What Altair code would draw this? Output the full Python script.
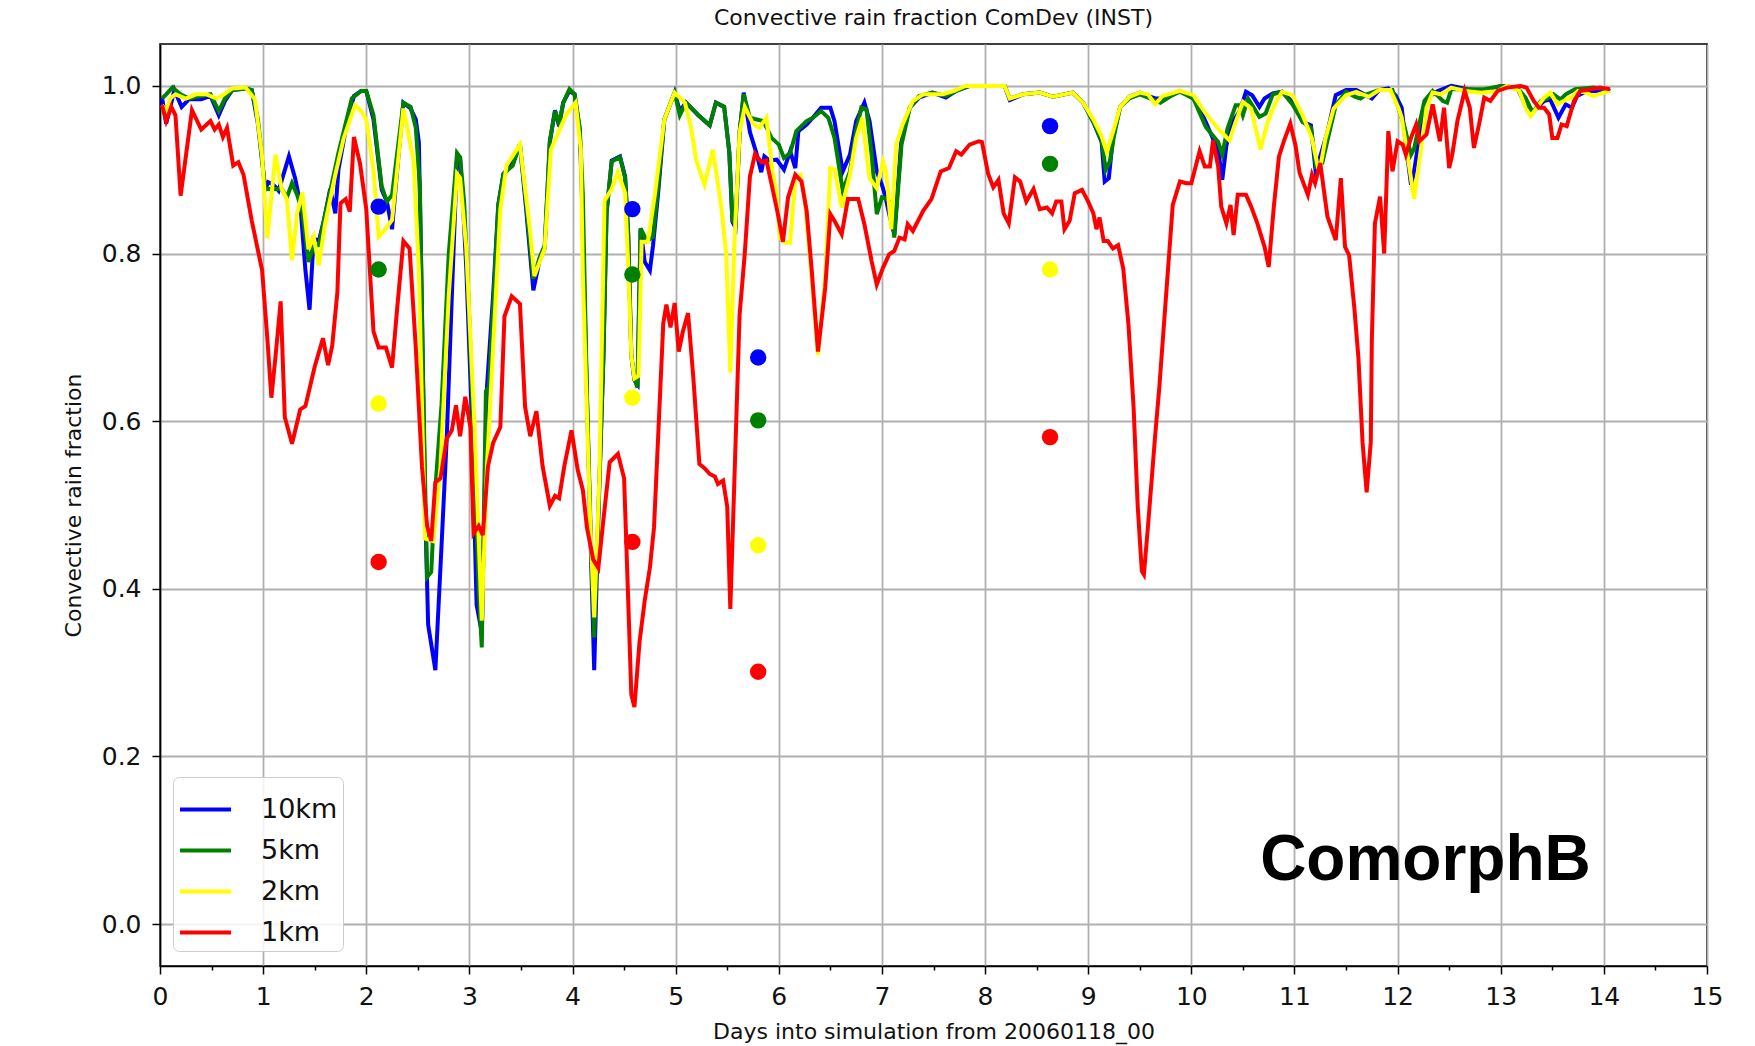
import altair as alt
import pandas as pd

series_names = ["10km", "5km", "2km", "1km"]
series_colors = ["#0000ff", "#008000", "#ffff00", "#ff0000"]

blue_day = [0.02,0.06,0.14,0.21,0.28,0.40,0.49,0.57,0.63,0.70,0.83,0.89,0.95,1.02,1.05,1.10,1.15,1.25,1.31,1.36,1.41,1.45,1.49,1.54,1.59,1.65,1.70,1.73,1.81,1.88,1.95,2.00,2.07,2.15,2.20,2.25,2.30,2.36,2.43,2.48,2.51,2.54,2.57,2.60,2.67,2.73,2.78,2.83,2.88,2.91,2.94,2.97,3.02,3.07,3.12,3.17,3.23,3.28,3.33,3.42,3.49,3.55,3.62,3.68,3.73,3.78,3.83,3.87,3.91,3.97,4.02,4.07,4.09,4.14,4.18,4.21,4.25,4.30,4.33,4.38,4.46,4.51,4.54,4.57,4.60,4.63,4.66,4.70,4.75,4.78,4.83,4.89,4.99,5.04,5.10,5.22,5.33,5.39,5.47,5.52,5.55,5.58,5.62,5.66,5.72,5.78,5.83,5.86,5.91,5.98,6.05,6.11,6.16,6.19,6.27,6.33,6.41,6.50,6.54,6.62,6.69,6.75,6.83,6.88,6.95,7.00,7.03,7.07,7.12,7.19,7.27,7.36,7.49,7.62,7.72,7.85,8.19,8.24,8.37,8.53,8.66,8.85,8.95,9.05,9.13,9.16,9.20,9.24,9.31,9.40,9.50,9.58,9.65,9.75,9.89,10.02,10.08,10.14,10.21,10.26,10.30,10.34,10.40,10.47,10.53,10.59,10.66,10.71,10.79,10.88,10.98,11.08,11.16,11.21,11.25,11.32,11.40,11.50,11.60,11.69,11.75,11.82,11.91,11.98,12.04,12.08,12.13,12.16,12.21,12.26,12.32,12.39,12.52,12.68,12.84,13.00,13.16,13.22,13.29,13.35,13.42,13.48,13.56,13.63,13.69,13.74,13.84,13.93,14.03,14.06]
blue_val = [0.986,0.955,0.995,0.975,0.984,0.984,0.988,0.965,0.982,0.995,0.997,0.995,0.954,0.877,0.885,0.882,0.875,0.916,0.89,0.86,0.78,0.733,0.818,0.815,0.84,0.877,0.848,0.90,0.954,0.988,0.994,0.994,0.96,0.876,0.862,0.829,0.90,0.98,0.973,0.96,0.933,0.735,0.50,0.357,0.303,0.452,0.579,0.75,0.914,0.914,0.853,0.782,0.617,0.381,0.348,0.64,0.75,0.858,0.895,0.909,0.93,0.853,0.756,0.792,0.806,0.933,0.971,0.952,0.98,0.994,0.99,0.947,0.872,0.629,0.435,0.303,0.483,0.678,0.848,0.911,0.916,0.892,0.824,0.678,0.649,0.644,0.829,0.79,0.78,0.809,0.872,0.96,0.992,0.97,0.98,0.965,0.953,0.98,0.975,0.921,0.838,0.831,0.945,0.992,0.945,0.921,0.897,0.916,0.911,0.912,0.90,0.922,0.902,0.946,0.954,0.962,0.974,0.974,0.958,0.898,0.918,0.958,0.98,0.958,0.898,0.882,0.87,0.847,0.823,0.938,0.974,0.986,0.992,0.986,0.994,1.0,1.0,0.983,0.99,0.992,0.987,0.992,0.98,0.957,0.933,0.886,0.89,0.938,0.975,0.987,0.992,0.988,0.985,0.985,0.994,0.985,0.973,0.957,0.937,0.924,0.888,0.929,0.957,0.97,0.993,0.989,0.975,0.985,0.991,0.993,0.981,0.957,0.953,0.892,0.916,0.945,0.989,0.995,0.995,0.989,0.985,0.995,0.997,0.989,0.974,0.93,0.882,0.898,0.938,0.97,0.988,0.994,1.0,0.996,0.994,1.0,0.998,0.982,0.966,0.974,0.982,0.984,0.962,0.978,0.974,0.988,0.994,0.994,0.994,0.994]

green_day = [0.02,0.06,0.12,0.20,0.28,0.40,0.49,0.57,0.63,0.70,0.83,0.89,0.95,1.02,1.10,1.18,1.23,1.28,1.33,1.38,1.44,1.49,1.54,1.59,1.66,1.73,1.86,1.95,2.00,2.07,2.15,2.20,2.25,2.30,2.36,2.43,2.48,2.52,2.55,2.59,2.63,2.67,2.73,2.80,2.88,2.91,2.95,3.00,3.05,3.09,3.12,3.16,3.19,3.24,3.28,3.33,3.42,3.49,3.55,3.62,3.68,3.73,3.78,3.83,3.87,3.91,3.97,4.02,4.07,4.10,4.14,4.18,4.21,4.25,4.30,4.33,4.38,4.46,4.51,4.54,4.57,4.60,4.63,4.66,4.72,4.78,4.83,4.89,4.99,5.04,5.10,5.22,5.33,5.39,5.47,5.52,5.55,5.58,5.62,5.66,5.72,5.85,5.93,6.00,6.05,6.11,6.17,6.27,6.33,6.41,6.48,6.54,6.62,6.69,6.75,6.80,6.85,6.90,6.95,7.00,7.05,7.09,7.12,7.19,7.27,7.36,7.49,7.62,7.72,7.85,8.19,8.24,8.37,8.53,8.66,8.85,8.95,9.05,9.13,9.17,9.21,9.25,9.31,9.40,9.50,9.60,9.70,9.80,9.89,10.02,10.14,10.26,10.30,10.35,10.43,10.47,10.50,10.55,10.66,10.72,10.79,10.88,10.98,11.08,11.16,11.21,11.27,11.32,11.40,11.50,11.59,11.64,11.70,11.82,11.95,12.01,12.07,12.13,12.16,12.21,12.26,12.34,12.44,12.48,12.52,12.68,12.84,13.00,13.16,13.24,13.31,13.39,13.45,13.51,13.58,13.63,13.72,13.90,14.03,14.06]
green_val = [0.985,0.99,0.998,0.99,0.985,0.988,0.99,0.97,0.985,0.995,0.997,0.995,0.96,0.877,0.877,0.877,0.867,0.884,0.87,0.85,0.79,0.81,0.81,0.84,0.88,0.92,0.985,0.994,0.994,0.965,0.88,0.862,0.87,0.92,0.98,0.975,0.95,0.88,0.65,0.414,0.42,0.52,0.62,0.80,0.92,0.915,0.86,0.72,0.55,0.40,0.33,0.636,0.64,0.76,0.858,0.895,0.905,0.93,0.86,0.77,0.795,0.81,0.935,0.97,0.955,0.98,0.996,0.99,0.95,0.87,0.63,0.45,0.342,0.49,0.68,0.85,0.91,0.915,0.89,0.82,0.68,0.65,0.64,0.83,0.815,0.82,0.88,0.96,0.992,0.965,0.98,0.965,0.953,0.98,0.975,0.921,0.84,0.835,0.945,0.99,0.962,0.958,0.938,0.93,0.914,0.92,0.946,0.958,0.962,0.97,0.962,0.938,0.875,0.898,0.946,0.974,0.972,0.918,0.847,0.867,0.865,0.859,0.819,0.93,0.974,0.988,0.992,0.988,0.994,1.0,1.0,0.985,0.99,0.992,0.987,0.992,0.98,0.957,0.935,0.90,0.91,0.94,0.975,0.985,0.99,0.985,0.98,0.988,0.993,0.985,0.951,0.933,0.918,0.949,0.977,0.977,0.965,0.985,0.963,0.967,0.99,0.993,0.978,0.957,0.95,0.904,0.908,0.935,0.977,0.993,0.987,0.985,0.99,0.995,0.995,0.973,0.95,0.918,0.925,0.954,0.982,0.994,0.982,0.98,0.996,0.996,0.996,1.0,0.998,0.986,0.968,0.982,0.985,0.99,0.984,0.99,0.996,0.998,0.996,0.994]

yellow_day = [0.02,0.06,0.10,0.15,0.25,0.35,0.45,0.55,0.62,0.70,0.83,0.92,0.99,1.04,1.12,1.18,1.23,1.28,1.33,1.38,1.44,1.49,1.54,1.60,1.70,1.78,1.89,1.95,2.00,2.07,2.12,2.19,2.25,2.36,2.46,2.51,2.57,2.65,2.72,2.80,2.88,2.91,2.97,3.05,3.12,3.17,3.23,3.30,3.36,3.49,3.59,3.63,3.73,3.79,3.84,3.94,4.03,4.08,4.10,4.17,4.21,4.26,4.31,4.38,4.44,4.51,4.54,4.57,4.60,4.64,4.67,4.73,4.80,4.89,4.99,5.09,5.15,5.20,5.28,5.36,5.44,5.49,5.53,5.57,5.62,5.67,5.75,5.81,5.88,5.94,5.98,6.01,6.06,6.11,6.16,6.21,6.25,6.32,6.38,6.45,6.50,6.54,6.61,6.69,6.75,6.81,6.88,6.95,7.01,7.04,7.09,7.14,7.20,7.30,7.40,7.59,7.70,7.81,8.19,8.24,8.37,8.53,8.66,8.85,8.95,9.05,9.13,9.18,9.24,9.31,9.40,9.50,9.58,9.65,9.72,9.89,10.02,10.14,10.26,10.37,10.43,10.50,10.58,10.67,10.74,10.82,10.88,10.98,11.08,11.17,11.24,11.30,11.38,11.50,11.60,11.72,11.82,11.93,12.01,12.04,12.10,12.16,12.21,12.28,12.34,12.42,12.52,12.65,12.81,12.97,13.06,13.18,13.24,13.29,13.35,13.42,13.48,13.55,13.61,13.68,13.75,13.82,13.90,14.00,14.06]
yellow_val = [0.977,0.97,0.985,0.99,0.985,0.99,0.99,0.985,0.99,0.997,0.998,0.984,0.916,0.818,0.918,0.877,0.865,0.792,0.848,0.873,0.805,0.82,0.786,0.835,0.894,0.937,0.977,0.97,0.96,0.90,0.82,0.83,0.84,0.973,0.91,0.78,0.46,0.457,0.546,0.75,0.895,0.89,0.806,0.593,0.362,0.546,0.688,0.853,0.905,0.93,0.825,0.773,0.806,0.924,0.938,0.966,0.98,0.924,0.775,0.483,0.366,0.532,0.863,0.877,0.897,0.872,0.785,0.678,0.651,0.654,0.814,0.814,0.872,0.96,0.992,0.98,0.95,0.911,0.882,0.924,0.858,0.80,0.658,0.814,0.945,0.975,0.955,0.95,0.962,0.897,0.87,0.819,0.813,0.813,0.89,0.894,0.867,0.771,0.679,0.771,0.902,0.90,0.855,0.894,0.938,0.962,0.89,0.878,0.91,0.898,0.829,0.93,0.954,0.982,0.99,0.99,0.994,1.0,1.0,0.985,0.99,0.992,0.987,0.992,0.98,0.96,0.94,0.921,0.945,0.975,0.987,0.992,0.99,0.978,0.988,0.994,0.989,0.967,0.949,0.935,0.957,0.981,0.973,0.924,0.957,0.981,0.993,0.989,0.965,0.937,0.896,0.937,0.973,0.989,0.993,0.987,0.995,0.995,0.973,0.962,0.914,0.865,0.91,0.974,0.992,0.99,0.998,0.994,0.992,0.994,1.0,0.994,0.974,0.964,0.974,0.986,0.992,0.978,0.982,0.986,0.994,0.992,0.988,0.992,0.994]

red_day = [0.02,0.06,0.11,0.15,0.20,0.31,0.40,0.49,0.53,0.57,0.61,0.65,0.71,0.76,0.81,0.89,0.99,1.04,1.08,1.12,1.17,1.21,1.28,1.36,1.41,1.50,1.58,1.63,1.67,1.72,1.75,1.80,1.84,1.88,1.94,2.00,2.07,2.12,2.19,2.25,2.30,2.36,2.42,2.48,2.54,2.59,2.63,2.67,2.72,2.78,2.83,2.87,2.91,2.96,3.01,3.04,3.09,3.13,3.18,3.23,3.30,3.34,3.41,3.49,3.54,3.59,3.65,3.71,3.78,3.83,3.87,3.92,3.99,4.05,4.10,4.14,4.20,4.25,4.30,4.36,4.44,4.50,4.54,4.57,4.60,4.65,4.70,4.75,4.79,4.83,4.88,4.91,4.95,4.99,5.03,5.07,5.12,5.17,5.23,5.28,5.33,5.38,5.41,5.46,5.50,5.53,5.57,5.62,5.67,5.72,5.77,5.83,5.88,5.94,5.99,6.04,6.09,6.16,6.22,6.27,6.32,6.38,6.45,6.50,6.54,6.61,6.67,6.77,6.83,6.90,6.95,7.01,7.07,7.12,7.17,7.22,7.25,7.30,7.40,7.48,7.57,7.65,7.72,7.77,7.85,7.94,7.97,8.03,8.08,8.13,8.18,8.23,8.29,8.34,8.40,8.47,8.53,8.60,8.65,8.69,8.74,8.77,8.82,8.87,8.94,9.00,9.05,9.08,9.11,9.15,9.19,9.24,9.29,9.34,9.39,9.44,9.48,9.52,9.54,9.58,9.65,9.69,9.76,9.82,9.89,9.95,10.00,10.08,10.13,10.18,10.21,10.26,10.29,10.34,10.38,10.41,10.45,10.53,10.58,10.64,10.71,10.75,10.80,10.85,10.90,10.96,11.01,11.05,11.13,11.17,11.20,11.25,11.32,11.40,11.45,11.49,11.53,11.58,11.62,11.66,11.70,11.74,11.75,11.78,11.83,11.87,11.91,11.95,12.00,12.05,12.08,12.13,12.18,12.21,12.28,12.34,12.41,12.45,12.50,12.53,12.58,12.65,12.70,12.74,12.79,12.84,12.90,12.97,13.06,13.19,13.25,13.32,13.37,13.42,13.47,13.50,13.55,13.59,13.64,13.71,13.77,13.87,13.96,14.06]
red_val = [0.977,0.958,0.975,0.965,0.869,0.971,0.948,0.958,0.948,0.954,0.939,0.95,0.905,0.909,0.894,0.839,0.78,0.70,0.628,0.677,0.743,0.605,0.573,0.614,0.618,0.665,0.699,0.667,0.69,0.754,0.86,0.865,0.85,0.939,0.907,0.853,0.707,0.688,0.688,0.664,0.735,0.815,0.806,0.688,0.546,0.475,0.457,0.527,0.532,0.579,0.589,0.619,0.582,0.629,0.593,0.466,0.475,0.464,0.546,0.574,0.593,0.725,0.749,0.74,0.617,0.582,0.612,0.546,0.499,0.511,0.508,0.546,0.589,0.542,0.518,0.473,0.435,0.425,0.483,0.551,0.561,0.532,0.386,0.274,0.259,0.337,0.386,0.425,0.473,0.581,0.717,0.739,0.712,0.741,0.683,0.707,0.729,0.654,0.549,0.544,0.537,0.534,0.525,0.529,0.498,0.376,0.532,0.727,0.80,0.892,0.919,0.909,0.911,0.877,0.848,0.814,0.867,0.894,0.886,0.851,0.779,0.683,0.759,0.847,0.839,0.823,0.865,0.865,0.835,0.791,0.763,0.783,0.799,0.803,0.819,0.817,0.835,0.827,0.851,0.865,0.898,0.902,0.922,0.918,0.93,0.934,0.933,0.895,0.879,0.888,0.848,0.836,0.891,0.886,0.862,0.877,0.853,0.855,0.848,0.862,0.862,0.829,0.839,0.872,0.876,0.862,0.848,0.829,0.843,0.815,0.815,0.806,0.81,0.782,0.716,0.617,0.499,0.421,0.417,0.475,0.584,0.641,0.758,0.858,0.886,0.884,0.884,0.922,0.904,0.904,0.935,0.904,0.856,0.836,0.858,0.822,0.87,0.87,0.856,0.836,0.808,0.784,0.856,0.916,0.935,0.955,0.929,0.896,0.87,0.894,0.884,0.908,0.844,0.816,0.89,0.808,0.798,0.736,0.676,0.575,0.515,0.575,0.696,0.836,0.868,0.80,0.946,0.898,0.934,0.93,0.918,0.938,0.954,0.934,0.942,0.978,0.934,0.974,0.902,0.918,0.958,0.994,0.974,0.926,0.954,0.986,0.982,0.994,0.998,1.0,0.998,0.982,0.974,0.974,0.966,0.938,0.938,0.954,0.952,0.982,0.994,0.996,0.998,0.996]

dot_day = [2.12, 2.12, 2.12, 2.12, 4.58, 4.58, 4.58, 4.58, 5.80, 5.80, 5.80, 5.80, 8.63, 8.63, 8.63, 8.63]
dot_val = [0.856, 0.781, 0.621, 0.432, 0.853, 0.775, 0.628, 0.456, 0.676, 0.601, 0.452, 0.301, 0.952, 0.907, 0.781, 0.581]
dot_series = ["10km", "5km", "2km", "1km"] * 4

x_ticks = [i * 0.5 for i in range(31)]
y_ticks = [0.0, 0.2, 0.4, 0.6, 0.8, 1.0]

label_text = ["ComorphB"]
label_day = [12.27]
label_val = [0.075]

frames = []
for name, d, v in [("10km", blue_day, blue_val), ("5km", green_day, green_val),
                   ("2km", yellow_day, yellow_val), ("1km", red_day, red_val)]:
    frames.append(pd.DataFrame({"day": d, "value": v, "series": name}))
lines_df = pd.concat(frames, ignore_index=True)
dots_df = pd.DataFrame({"day": dot_day, "value": dot_val, "series": dot_series})
label_df = pd.DataFrame({"day": label_day, "value": label_val, "text": label_text})

FONT = "DejaVu Sans"

x_scale = alt.Scale(domain=[0, 15], nice=False, zero=False)
y_scale = alt.Scale(domain=[-0.05, 1.05], nice=False, zero=False)
color_scale = alt.Scale(domain=series_names, range=series_colors)

x_axis = alt.Axis(
    values=x_ticks,
    labelExpr="datum.value % 1 === 0 ? format(datum.value, 'd') : ''",
    tickSize={"condition": {"test": "datum.value % 1 === 0", "value": 8}, "value": 4},
    gridOpacity={"condition": {"test": "datum.value % 1 === 0", "value": 1}, "value": 0},
    title="Days into simulation from 20060118_00",
    labelFontSize=25, labelPadding=10, titleFontSize=22, titlePadding=12,
    labelFlush=False, labelOverlap=False,
)
y_axis = alt.Axis(
    values=y_ticks, format=".1f", tickSize=8,
    title="Convective rain fraction",
    labelFontSize=25, labelPadding=11, titleFontSize=22, titlePadding=16,
    labelFlush=False,
)

legend = alt.Legend(
    title=None, orient="none", legendX=13, legendY=733,
    symbolType="stroke", symbolSize=2600, symbolStrokeWidth=3.8,
    labelFontSize=27, labelFont=FONT, labelColor="#111",
    labelOffset=28, padding=5, rowPadding=0,
    fillColor="rgba(255,255,255,0.85)", strokeColor="#cccccc",
    cornerRadius=6,
)

layers = []
for i, name in enumerate(series_names):
    layer = alt.Chart(lines_df).transform_filter(
        alt.datum.series == name
    ).mark_line(strokeWidth=4, clip=True).encode(
        x=alt.X("day:Q", scale=x_scale, axis=x_axis),
        y=alt.Y("value:Q", scale=y_scale, axis=y_axis),
        color=alt.Color("series:N", scale=color_scale, legend=legend),
        order="day:Q",
    )
    layers.append(layer)

dots = alt.Chart(dots_df).mark_circle(size=270, opacity=1).encode(
    x=alt.X("day:Q", scale=x_scale),
    y=alt.Y("value:Q", scale=y_scale),
    fill=alt.Fill("series:N", scale=alt.Scale(domain=series_names, range=series_colors), legend=None),
)

label = alt.Chart(label_df).mark_text(
    font="Liberation Sans", fontSize=64, fontWeight="bold", color="black",
    align="center", baseline="middle",
).encode(
    x=alt.X("day:Q", scale=x_scale),
    y=alt.Y("value:Q", scale=y_scale),
    text="text:N",
)

chart = alt.layer(*layers, dots, label).properties(
    width=1547, height=922,
    title=alt.TitleParams("Convective rain fraction ComDev (INST)", fontSize=22,
                          font=FONT, fontWeight="normal", color="#111", offset=14),
    autosize=alt.AutoSizeParams(type="none"),
    padding={"left": 160, "top": 44, "right": 48, "bottom": 80},
).configure(
    font=FONT,
    background="white",
).configure_view(
    stroke="black", strokeWidth=1.6,
).configure_axis(
    labelFont=FONT, titleFont=FONT, labelColor="#111", titleColor="#111",
    titleFontWeight="normal",
    gridColor="#b0b0b0", gridWidth=1.8, tickColor="black", tickWidth=1.5,
    domainColor="black", domainWidth=1.6,
)

chart.save("out.html", embed_options={"renderer": "svg", "actions": False})
